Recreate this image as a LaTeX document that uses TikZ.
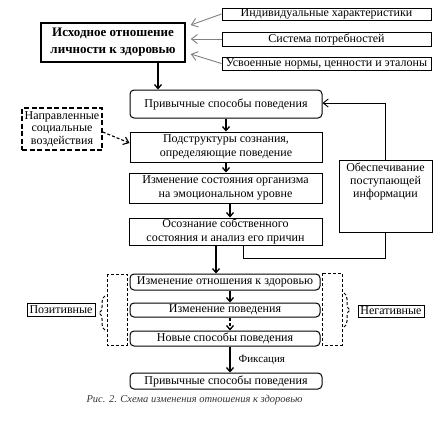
\documentclass[tikz,border=0pt]{standalone}
\usepackage{fontspec}
\setmainfont{Liberation Serif}
\usetikzlibrary{arrows.meta,decorations.pathreplacing,calc}
\begin{document}
\begin{tikzpicture}[x=1pt,y=1pt,
  box/.style={draw,line width=1pt,inner sep=0pt,align=center,font=\fontsize{12}{14}\selectfont},
  rbox/.style={box,rounded corners=4pt},
  dbox/.style={box,line width=1.5pt,dash pattern=on 5pt off 2.5pt},
  arr/.style={-{Straight Barb[length=4pt,width=7pt]},line width=1.3pt},
  farr/.style={-{Straight Barb[length=5pt,width=8pt]},line width=0.9pt},
  garr/.style={gray,line width=0.9pt,-{Straight Barb[length=6pt,width=9pt]}},
  bkt/.style={line width=1pt,dash pattern=on 3pt off 2pt},
  lbl/.style={font=\fontsize{11}{13}\selectfont,inner sep=0pt},
]
\useasboundingbox (0,0) rectangle (445,-429);

% top box and sources
\node[box,line width=1.4pt,font=\bfseries\fontsize{13}{17}\selectfont,minimum width=144,minimum height=39] (top) at (113,-42.5) {Исходное отношение\\личности к здоровью};
\node[box,minimum width=209,minimum height=12] (r1) at (326.5,-14) {Индивидуальные характеристики};
\node[box,minimum width=209,minimum height=14] (r2) at (326.5,-39) {Система потребностей};
\node[box,minimum width=209,minimum height=13] (r3) at (326.5,-63.5) {Усвоенные нормы, ценности и эталоны};
\draw[garr] (r1.west) -- ([xshift=5,yshift=17.5]top.east);
\draw[garr] (r2.west) -- ([xshift=5,yshift=3.5]top.east);
\draw[garr] (r3.west) -- ([xshift=5,yshift=-11.5]top.east);

% main column
\node[rbox,minimum width=192,minimum height=28] (hab1) at (226,-104) {Привычные способы поведения};
\node[box,minimum width=192,minimum height=30] (sub) at (226,-147) {Подструктуры сознания,\\определяющие поведение};
\node[box,minimum width=193,minimum height=30] (emo) at (225.5,-188) {Изменение состояния организма\\на эмоциональном уровне};
\node[box,minimum width=193,minimum height=27] (aware) at (225.5,-231.5) {Осознание собственного\\состояния и анализ его причин};

\draw[arr] ([xshift=45]top.south) -- ([xshift=45]top.south |- hab1.north);
\draw[arr] (hab1.south) -- (sub.north);
\draw[arr] (sub.south) -- (sub.south |- emo.north);
\draw[arr] ([xshift=4.5]emo.south) -- ([xshift=4.5]emo.south |- aware.north);

% social influences
\node[dbox,font=\fontsize{12}{12.5}\selectfont,minimum width=80,minimum height=42] (soc) at (62,-129) {Направленные\\социальные\\воздействия};
\draw[farr,densely dashed,line width=1.1pt] ([yshift=-3]soc.east) -- ([yshift=4]sub.west);

% feedback
\node[box,font=\fontsize{12}{13}\selectfont,minimum width=93,minimum height=72] (info) at (385.5,-196) {\parbox[c][72pt][t]{93pt}{\centering\vspace{3pt}Обеспечивание\\поступающей\\информации}};
\draw[farr] (info.north) |- ([yshift=1]hab1.east);
\draw[line width=0.9pt] ([xshift=17.5]aware.south) -- ++(0,-13) -| (info.south);

% lower column
\node[rbox,minimum width=190,minimum height=16] (chg) at (225,-282) {Изменение отношения к здоровью};
\node[rbox,minimum width=190,minimum height=14] (beh) at (225,-310) {Изменение поведения};
\node[rbox,minimum width=190,minimum height=15] (newb) at (225,-338.5) {Новые способы поведения};
\node[rbox,minimum width=192,minimum height=16] (hab2) at (226,-381) {Привычные способы поведения};

\draw[arr] ([xshift=-9.5]aware.south) -- ([xshift=-9.5]aware.south |- chg.north);
\draw[arr] ([xshift=5]chg.south) -- ([xshift=5]chg.south |- beh.north);
\draw[arr,densely dashed] ([xshift=5]beh.south) -- ([xshift=5]beh.south |- newb.north);
\draw[arr] ([xshift=5]newb.south) -- node[lbl,right=8pt] (fix) {Фиксация} ([xshift=5]newb.south |- hab2.north);

% brackets and braces
\draw[bkt] (107,-274) rectangle (127,-345);
\draw[bkt] (322,-273) rectangle (342,-345);
\draw[bkt,decorate,decoration={brace,amplitude=6pt}] (105,-330) -- (105,-296);
\draw[bkt,decorate,decoration={brace,amplitude=6pt}] (344,-293) -- (344,-327);
\node[box,minimum width=68,minimum height=13] (pos) at (61,-309.5) {Позитивные};
\node[box,minimum width=66,minimum height=12] (neg) at (391,-311) {Негативные};

% caption
\node[inner sep=0pt,text=black!80,font=\itshape\fontsize{10.5}{12}\selectfont] (cap) at (194.5,-400) {Рис. 2. Схема изменения отношения к здоровью};
\end{tikzpicture}
\end{document}
